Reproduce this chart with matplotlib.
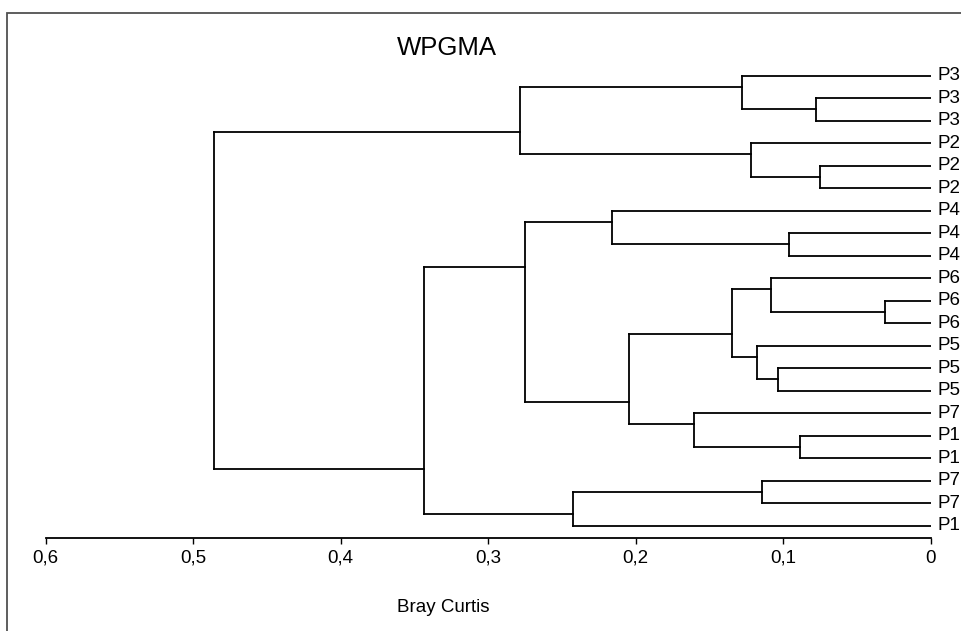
import matplotlib
matplotlib.use("Agg")
import matplotlib.pyplot as plt
from matplotlib.patches import Rectangle
from matplotlib.ticker import FixedLocator, FuncFormatter

plt.rcParams['font.family'] = ['Liberation Sans', 'DejaVu Sans']

# ---- data ----
leaf_labels = ["P3", "P3", "P3", "P2", "P2", "P2", "P4", "P4", "P4",
               "P6", "P6", "P6", "P5", "P5", "P5", "P7", "P1", "P1",
               "P7", "P7", "P1"]
# merges: node ids continue after the leaves (21, 22, ...)
merge_top = [1, 0, 4, 3, 22, 7, 6, 10, 9, 13, 12, 29, 16, 15, 32, 27, 18, 37, 36, 25]
merge_bottom = [2, 21, 5, 23, 24, 8, 26, 11, 28, 14, 30, 31, 17, 33, 34, 35, 19, 20, 38, 39]
merge_height = [0.078, 0.128, 0.075, 0.1216, 0.2784, 0.0961, 0.2159, 0.0308,
                0.1083, 0.1037, 0.118, 0.1349, 0.0888, 0.1607, 0.2045, 0.2749,
                0.1146, 0.2423, 0.3435, 0.4859]
x_ticks = [0.6, 0.5, 0.4, 0.3, 0.2, 0.1, 0.0]
x_label = "Bray Curtis"
title = "WPGMA"

# ---- figure ----
W, H = 961, 631
fig = plt.figure(figsize=(W / 100, H / 100), dpi=100)
fig.patch.set_facecolor("white")

n = len(leaf_labels)
x_left_px, x_right_px = 45.7, 930.7
y_top_px, y_axis_px = 60.0, 538.0
first_leaf_px, spacing_px = 75.7, 22.5

ax = fig.add_axes([x_left_px / W, 1 - y_axis_px / H,
                   (x_right_px - x_left_px) / W, (y_axis_px - y_top_px) / H])
ax.set_xlim(0.6, 0.0)
ax.set_ylim((y_axis_px - first_leaf_px) / spacing_px,
            (y_top_px - first_leaf_px) / spacing_px)
ax.set_facecolor("none")

# leaf ranges and node positions
lo = {i: i for i in range(n)}
hi = {i: i for i in range(n)}
ypos = {i: float(i) for i in range(n)}
xpos = {i: 0.0 for i in range(n)}
lc = "black"
lw = 1.3
for k, (a, b, h) in enumerate(zip(merge_top, merge_bottom, merge_height)):
    node = n + k
    lo[node] = min(lo[a], lo[b])
    hi[node] = max(hi[a], hi[b])
    ypos[node] = (hi[a] + lo[b]) / 2.0
    xpos[node] = h
    # vertical connector
    ax.plot([h, h], [ypos[a], ypos[b]], color=lc, lw=lw, solid_capstyle="projecting")
    # horizontals to children
    for c in (a, b):
        ax.plot([xpos[c], h], [ypos[c], ypos[c]], color=lc, lw=lw,
                solid_capstyle="projecting")

# leaf labels
for i, lab in enumerate(leaf_labels):
    ax.annotate(lab, (0.0, i), xytext=(5.2, 0), textcoords="offset points",
                ha="left", va="center", fontsize=13.5, color="black",
                annotation_clip=False)

# axis styling
for s in ("left", "right", "top"):
    ax.spines[s].set_visible(False)
ax.spines["bottom"].set_linewidth(1.3)
ax.spines["bottom"].set_color("black")
ax.yaxis.set_visible(False)
ax.xaxis.set_major_locator(FixedLocator(x_ticks))
ax.xaxis.set_major_formatter(FuncFormatter(
    lambda v, p: "0" if abs(v) < 1e-9 else ("%.1f" % v).replace(".", ",")))
ax.tick_params(axis="x", direction="out", length=4.5, width=1.0, pad=4,
               labelsize=13.5, colors="black")

# texts
fig.text(443 / W, 1 - 607 / H, x_label, ha="center", va="center", fontsize=13.5)
fig.text(397 / W, 1 - 48 / H, title, ha="left", va="center", fontsize=18.5)

# outer frame (extends past right/bottom edges)
fig.patches.append(Rectangle((7 / W, -0.2), 2.0, 1.2 - 12.7 / H, fill=False,
                             edgecolor="#505050", lw=1.3,
                             transform=fig.transFigure, figure=fig))

fig.savefig("out.png", dpi=100)
